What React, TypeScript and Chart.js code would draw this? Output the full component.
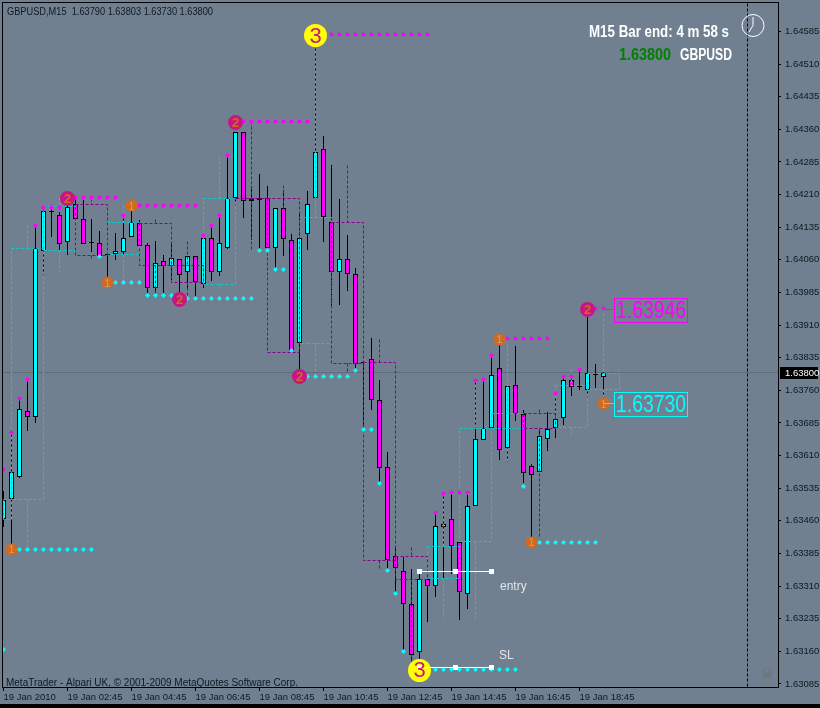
import React, { useEffect, useRef } from "react";
import { Chart, registerables } from "chart.js";

Chart.register(...registerables);

const opens = [1.63464,1.63510,1.63562,1.63712,1.63698,1.64081,1.64172,1.64162,1.64100,1.64188,1.64153,1.64100,1.64098,1.64073,1.64074,1.64079,1.64113,1.64144,1.64094,1.63996,1.64057,1.64047,1.64061,1.64031,1.64068,1.64004,1.64110,1.64033,1.64088,1.64202,1.64355,1.64195,1.64202,1.64202,1.64087,1.64179,1.64105,1.63868,1.64119,1.64202,1.64314,1.64146,1.64031,1.64061,1.64027,1.63826,1.63831,1.63739,1.63583,1.63379,1.63344,1.63268,1.63158,1.63327,1.63310,1.63447,1.63464,1.63412,1.63293,1.63494,1.63645,1.63673,1.63811,1.63628,1.63772,1.63706,1.63585,1.63572,1.63648,1.63674,1.63697,1.63783,1.63767,1.63762,1.63798,1.63790];
const highs = [1.63529,1.63662,1.63740,1.63784,1.64140,1.64179,1.64182,1.64170,1.64202,1.64202,1.64198,1.64153,1.64126,1.64073,1.64121,1.64159,1.64186,1.64152,1.64098,1.64103,1.64071,1.64102,1.64061,1.64068,1.64068,1.64117,1.64140,1.64163,1.64299,1.64355,1.64355,1.64230,1.64257,1.64230,1.64179,1.64221,1.64119,1.64170,1.64218,1.64575,1.64345,1.64278,1.64200,1.64117,1.64041,1.63828,1.63880,1.63784,1.63618,1.63398,1.63378,1.63349,1.63340,1.63347,1.63481,1.63522,1.63527,1.63412,1.63519,1.63784,1.63784,1.63841,1.63876,1.63769,1.63862,1.63715,1.63591,1.63669,1.63711,1.63745,1.63791,1.63791,1.63807,1.63946,1.63821,1.63803];
const lows = [1.63446,1.63395,1.63559,1.63667,1.63686,1.64025,1.64113,1.64083,1.64071,1.64153,1.64096,1.64077,1.64064,1.64007,1.64060,1.64071,1.64113,1.64090,1.63983,1.63984,1.63984,1.64014,1.63979,1.63991,1.63972,1.63996,1.64011,1.64023,1.64085,1.64185,1.64157,1.64106,1.64083,1.64087,1.64037,1.64069,1.63851,1.63807,1.64083,1.64202,1.64102,1.63954,1.63956,1.63988,1.63811,1.63673,1.63715,1.63546,1.63347,1.63294,1.63159,1.63129,1.63122,1.63228,1.63286,1.63328,1.63339,1.63231,1.63257,1.63494,1.63645,1.63673,1.63600,1.63596,1.63690,1.63546,1.63421,1.63572,1.63621,1.63651,1.63680,1.63748,1.63761,1.63745,1.63765,1.63730];
const closes = [1.63508,1.63572,1.63717,1.63698,1.64087,1.64172,1.64171,1.64096,1.64182,1.64153,1.64096,1.64100,1.64068,1.64073,1.64080,1.64110,1.64146,1.64093,1.63996,1.64052,1.64047,1.64064,1.64026,1.64068,1.64008,1.64110,1.64033,1.64098,1.64202,1.64355,1.64195,1.64201,1.64197,1.64087,1.64179,1.64107,1.63851,1.64110,1.64188,1.64307,1.64158,1.64033,1.64061,1.64028,1.63821,1.63826,1.63739,1.63582,1.63369,1.63351,1.63268,1.63152,1.63326,1.63310,1.63448,1.63452,1.63402,1.63297,1.63494,1.63648,1.63673,1.63795,1.63624,1.63769,1.63706,1.63571,1.63565,1.63654,1.63672,1.63695,1.63783,1.63768,1.63771,1.63799,1.63798,1.63800];

const yTickValues = [1.64585,1.64510,1.64435,1.64360,1.64285,1.64210,1.64135,1.64060,1.63985,1.63910,1.63835,1.63760,1.63685,1.63610,1.63535,1.63460,1.63385,1.63310,1.63235,1.63160,1.63085];
const xTickValues = [0,8,16,24,32,40,48,56,64,72];
const xTickLabels = ["19 Jan 2010","19 Jan 02:45","19 Jan 04:45","19 Jan 06:45","19 Jan 08:45","19 Jan 10:45","19 Jan 12:45","19 Jan 14:45","19 Jan 16:45","19 Jan 18:45"];

const cyanRects = [[1,5,1.64087,1.63510],[0,1,1.63510,1.63464],[5,9,1.64182,1.64081],[13,17,1.64146,1.64073],[25,29,1.64202,1.64004],[37,41,1.64158,1.63868],[53,57,1.63401,1.63328],[57,61,1.63673,1.63413],[61,65,1.63707,1.63673],[69,73,1.63771,1.63675],[73,77,1.63799,1.63762]];
const cyanVerticals = [[3,1.64138,1.64087],[3,1.63510,1.63400],[7,1.64204,1.64182],[7,1.64081,1.64034],[15,1.64184,1.64146],[15,1.64073,1.64009],[27,1.64297,1.64202],[27,1.64004,1.63995],[39,1.64575,1.64158],[39,1.63868,1.63795],[55,1.63522,1.63401],[55,1.63328,1.63232],[59,1.63784,1.63673],[59,1.63413,1.63234],[63,1.63879,1.63707],[63,1.63673,1.63595],[71,1.63807,1.63771],[71,1.63675,1.63653],[75,1.63948,1.63799],[75,1.63762,1.63729]];
const purpleRects = [[9,13,1.64188,1.64071],[17,21,1.64144,1.64047],[21,25,1.64047,1.64008],[29,33,1.64202,1.64202],[33,37,1.64202,1.63847],[41,45,1.64146,1.63822],[45,49,1.63824,1.63369],[49,53,1.63379,1.63326],[65,69,1.63707,1.63673]];
const purpleVerticals = [[11,1.64200,1.64188],[11,1.64071,1.64064],[19,1.64152,1.64144],[19,1.64047,1.63984],[23,1.64102,1.64047],[23,1.64008,1.63968],[31,1.64378,1.64083],[35,1.64230,1.64179],[43,1.64278,1.64146],[43,1.63822,1.63802],[47,1.63876,1.63824],[47,1.63369,1.63349],[51,1.63398,1.63379],[51,1.63326,1.63133],[67,1.63715,1.63707],[67,1.63673,1.63421]];

const magentaRows = [[9,14,1.64203],[17,24,1.64184],[30,38,1.64378],[41,53,1.64578],[63,68,1.63879],[74,75,1.63948]];
const magentaSingles = [[0,1.63579],[1,1.63663],[2,1.63741],[3,1.63784],[4,1.64140],[5,1.64181],[6,1.64181],[7,1.64181],[15,1.64161],[25,1.64115],[26,1.64140],[27,1.64163],[28,1.64299],[54,1.63480],[55,1.63522],[56,1.63526],[57,1.63526],[58,1.63526],[59,1.63782],[60,1.63786],[61,1.63841],[69,1.63752],[70,1.63791],[71,1.63791],[72,1.63807]];
const cyanRows = [[2,11,1.63395],[14,17,1.64009],[18,21,1.63979],[23,31,1.63971],[38,43,1.63793],[54,64,1.63119],[67,74,1.63411]];
const cyanSingles = [[0,1.63165],[12,1.64067],[32,1.64081],[33,1.64081],[34,1.64037],[35,1.64037],[36,1.63851],[44,1.63805],[45,1.63671],[46,1.63671],[47,1.63547],[48,1.63345],[49,1.63293],[50,1.63159],[65,1.63540]];

const circles1 = [[1,1.63394],[13,1.64007],[16,1.64184],[62,1.63878],[66,1.63410],[75,1.63729]];
const circles2 = [[8,1.64202],[29,1.64376],[22,1.63968],[37,1.63791],[73,1.63945]];
const circles3 = [[39,1.64575],[52,1.63117]];

const entryLine = [[52,1.63344],[56.5,1.63344],[61,1.63344]];
const slLine = [[52,1.63124],[56.5,1.63124],[61,1.63124]];
const lastPrice = 1.638;
const separatorIndex = 93;
const highBox = "1.63946";
const lowBox = "1.63730";

const UI = '"Liberation Sans", sans-serif';
const Y_MIN = 1.630781;
const Y_MAX = 1.646505;

const rectPath = (rects: number[][]) =>
  rects.flatMap(([a, b, t, u]) => [
    { x: a, y: t }, { x: b, y: t }, { x: b, y: u }, { x: a, y: u }, { x: a, y: t }, { x: a, y: null },
  ]);
const vertPath = (v: number[][]) =>
  v.flatMap(([x, t, u]) => [{ x, y: t }, { x, y: u }, { x, y: null }]);
const rowPoints = (rows: number[][]) =>
  rows.flatMap(([a, b, p]) => {
    const out: { x: number; y: number }[] = [];
    for (let i = a; i <= b; i++) out.push({ x: i, y: p });
    return out;
  });
const pts = (list: number[][]) => list.map(([x, y]) => ({ x, y }));

const indices = opens.map((_, i) => i);

const dashed = (data: any[], color: string, order: number) => ({
  type: "line", data, borderColor: color, borderWidth: 1, borderDash: [3, 2], pointRadius: 0, spanGaps: false, tension: 0, order,
});
const marks = (data: any[], color: string, radius: number, style: string, order: number) => ({
  type: "line", data, showLine: false, pointStyle: style, pointRadius: radius, pointBackgroundColor: color, pointBorderWidth: 0, order,
});
const body = (data: any[], color: string, order: number) => ({
  type: "bar", data, backgroundColor: color, borderColor: "#000", borderWidth: 1, borderSkipped: false, inflateAmount: 0, barThickness: 5, grouped: false, order,
});

const snapPlugin = {
  id: "snap",
  beforeDatasetsDraw(chart: any) {
    chart.getSortedVisibleDatasetMetas().forEach((meta: any) => {
      if (meta.type === "bar") {
        meta.data.forEach((el: any) => {
          el.y = Math.round(el.y);
          el.base = Math.round(el.base);
          if (el.base === el.y) el.base = el.y + 1;
        });
      } else {
        meta.data.forEach((el: any) => {
          if (Number.isFinite(el.y)) el.y = Math.floor(el.y) + 0.5;
        });
      }
    });
  },
};

const fitText = (c: any, text: string, x: number, y: number, width: number) => {
  const w = c.measureText(text).width;
  c.save();
  c.translate(x, y);
  c.scale(width / w, 1);
  c.fillText(text, 0, 0);
  c.restore();
};

const drawPlugin = {
  id: "mt4",
  beforeDraw(chart: any) {
    const c = chart.ctx;
    c.save();
    c.fillStyle = "#708090";
    c.fillRect(0, 0, 820, 708);
    c.fillStyle = "#000";
    c.fillRect(0, 704, 820, 4);
    c.restore();
  },
  afterDatasetsDraw(chart: any) {
    const c = chart.ctx;
    const xS = chart.scales.x;
    const yS = chart.scales.y;
    c.save();
    c.textAlign = "center";
    c.textBaseline = "middle";
    const digit = (list: number[][], t: string, font: string, color: string) => {
      c.font = font;
      c.fillStyle = color;
      list.forEach(([x, p]) => c.fillText(t, xS.getPixelForValue(x), yS.getPixelForValue(p) + 1));
    };
    digit(circles1, "1", `10px ${UI}`, "#C9A27A");
    digit(circles2, "2", `bold 13px ${UI}`, "#D2691E");
    digit(circles3, "3", `22px ${UI}`, "#C71585");

    c.textAlign = "left";
    c.textBaseline = "alphabetic";
    c.fillStyle = "#101820";
    c.font = `10px ${UI}`;
    fitText(c, "GBPUSD,M15  1.63790 1.63803 1.63730 1.63800", 7, 15, 206);
    fitText(c, "MetaTrader - Alpari UK, © 2001-2009 MetaQuotes Software Corp.", 6, 686, 292);

    c.fillStyle = "#FFFFFF";
    c.font = `bold 17px ${UI}`;
    fitText(c, "M15 Bar end: 4 m 58 s", 589, 37, 140);
    c.font = `bold 16px ${UI}`;
    c.fillStyle = "#008000";
    fitText(c, "1.63800", 619, 60, 52);
    c.fillStyle = "#FFFFFF";
    fitText(c, "GBPUSD", 680, 60, 52);

    c.fillStyle = "#E0E4E8";
    c.font = `12px ${UI}`;
    c.fillText("entry", xS.getPixelForValue(62) + 0.5, yS.getPixelForValue(entryLine[0][1]) + 19);
    c.fillText("SL", xS.getPixelForValue(62) - 0.5, yS.getPixelForValue(slLine[0][1]) - 8);

    const box = (text: string, color: string, top: number, price: number) => {
      const ly = Math.floor(yS.getPixelForValue(price)) + 0.5;
      c.strokeStyle = color;
      c.lineWidth = 1;
      c.beginPath();
      c.moveTo(xS.getPixelForValue(75), ly);
      c.lineTo(614, ly);
      c.stroke();
      c.strokeRect(614.5, top + 0.5, 73, 24);
      c.fillStyle = color;
      c.font = `23px ${UI}`;
      fitText(c, text, 616, top + 20, 70);
    };
    box(highBox, "#FF00FF", 298, 1.63946);
    box(lowBox, "#00FFFF", 392, 1.6373);

    c.strokeStyle = "#FFFFFF";
    c.lineWidth = 1;
    c.beginPath();
    c.arc(753, 25.5, 11, 0, Math.PI * 2);
    c.stroke();
    c.beginPath();
    c.moveTo(753, 25.5);
    c.lineTo(753, 17);
    c.moveTo(753, 25.5);
    c.lineTo(749, 32);
    c.stroke();

    c.fillStyle = "#6E6E6E";
    c.font = `15px "DejaVu Sans"`;
    c.textAlign = "center";
    c.fillText("☠", 767, 679);
    c.restore();
  },
  afterDraw(chart: any) {
    const c = chart.ctx;
    c.save();
    c.fillStyle = "#000";
    c.fillRect(2, 2, 777, 1);
    c.fillRect(2, 2, 1, 686);
    c.fillRect(778, 2, 1, 686);
    c.fillRect(2, 687, 777, 1);
    c.fillRect(780, 367, 38, 12);
    c.fillStyle = "#FFFFFF";
    c.font = `9.5px ${UI}`;
    c.textAlign = "left";
    c.textBaseline = "middle";
    c.fillText(lastPrice.toFixed(5), 785, 373);
    c.restore();
  },
};

export default function App() {
  const ref = useRef<HTMLCanvasElement | null>(null);
  useEffect(() => {
    if (!ref.current) return;
    const up = indices.filter((i) => closes[i] >= opens[i]).map((i) => ({ x: i, y: [opens[i], closes[i]] }));
    const down = indices.filter((i) => closes[i] < opens[i]).map((i) => ({ x: i, y: [opens[i], closes[i]] }));
    const wicks = indices.map((i) => ({ x: i, y: [lows[i], highs[i]] }));
    const chart = new Chart(ref.current, {
      type: "bar",
      data: {
        datasets: [
          { type: "line", data: pts(entryLine), borderColor: "#FFF", borderWidth: 1, pointStyle: "rect", pointRadius: 3.5, pointBackgroundColor: "#FFF", pointBorderWidth: 0, order: 0 },
          { type: "line", data: pts(slLine), borderColor: "#FFF", borderWidth: 1, pointStyle: "rect", pointRadius: 3.5, pointBackgroundColor: "#FFF", pointBorderWidth: 0, order: 0 },
          marks(pts(circles3), "#FFFF00", 11.5, "circle", 1),
          marks(pts(circles2), "#C71585", 7.5, "circle", 1),
          marks(pts(circles1), "#D2691E", 6, "circle", 1),
          marks([...rowPoints(magentaRows), ...pts(magentaSingles)], "#FF00FF", 2.5, "rectRot", 3),
          marks([...rowPoints(cyanRows), ...pts(cyanSingles)], "#00FFFF", 2.5, "rectRot", 3),
          dashed([...rectPath(purpleRects), ...vertPath(purpleVerticals)], "#8B008B", 4),
          dashed([...rectPath(cyanRects), ...vertPath(cyanVerticals)], "#00CED1", 4),
          body(up, "#00FFFF", 5),
          body(down, "#FF00FF", 5),
          { type: "bar", data: wicks, backgroundColor: "#000", borderWidth: 0, inflateAmount: 0, barThickness: 1, grouped: false, order: 6 },
          { type: "line", data: [{ x: -1, y: lastPrice }, { x: 97, y: lastPrice }], borderColor: "#5E6C7C", borderWidth: 1, pointRadius: 0, order: 7 },
          { type: "line", data: [{ x: separatorIndex, y: Y_MAX }, { x: separatorIndex, y: Y_MIN }], borderColor: "#000", borderWidth: 1, borderDash: [3, 2], pointRadius: 0, order: 8 },
        ] as any,
      },
      options: {
        animation: false,
        responsive: false,
        devicePixelRatio: 1,
        events: [],
        layout: { autoPadding: false, padding: { left: 3, top: 3, right: 0, bottom: 0 } },
        plugins: { legend: { display: false }, tooltip: { enabled: false }, title: { display: false } },
        scales: {
          x: {
            type: "linear",
            offset: false,
            min: -0.0625,
            max: 96.8125,
            border: { display: false },
            grid: { offset: false, drawOnChartArea: false, drawTicks: true, tickLength: 4, tickColor: "#000" },
            ticks: {
              autoSkip: false,
              maxRotation: 0,
              minRotation: 0,
              align: "start",
              padding: 1,
              color: "#101820",
              font: { family: UI, size: 9.5 },
              callback: (v: any) => xTickLabels[xTickValues.indexOf(Number(v))] ?? "",
            },
            afterBuildTicks: (s: any) => {
              s.ticks = xTickValues.map((value) => ({ value }));
            },
            afterFit: (s: any) => {
              s.height = 21;
              s.paddingLeft = 0;
              s.paddingRight = 0;
            },
          },
          y: {
            type: "linear",
            position: "right",
            min: Y_MIN,
            max: Y_MAX,
            border: { display: false },
            grid: { drawOnChartArea: false, drawTicks: true, tickLength: 3, tickColor: "#000" },
            ticks: {
              autoSkip: false,
              padding: 4,
              color: "#101820",
              font: { family: UI, size: 9.5 },
              callback: (v: any) => Number(v).toFixed(5),
            },
            afterBuildTicks: (s: any) => {
              s.ticks = yTickValues.map((value) => ({ value }));
            },
            afterFit: (s: any) => {
              s.width = 42;
              s.paddingTop = 0;
              s.paddingBottom = 0;
            },
          },
        },
      } as any,
      plugins: [snapPlugin, drawPlugin],
    } as any);
    return () => chart.destroy();
  }, []);
  return (
    <canvas
      ref={ref}
      width={820}
      height={708}
      style={{ position: "absolute", left: 0, top: 0, display: "block", width: 820, height: 708 }}
    />
  );
}
